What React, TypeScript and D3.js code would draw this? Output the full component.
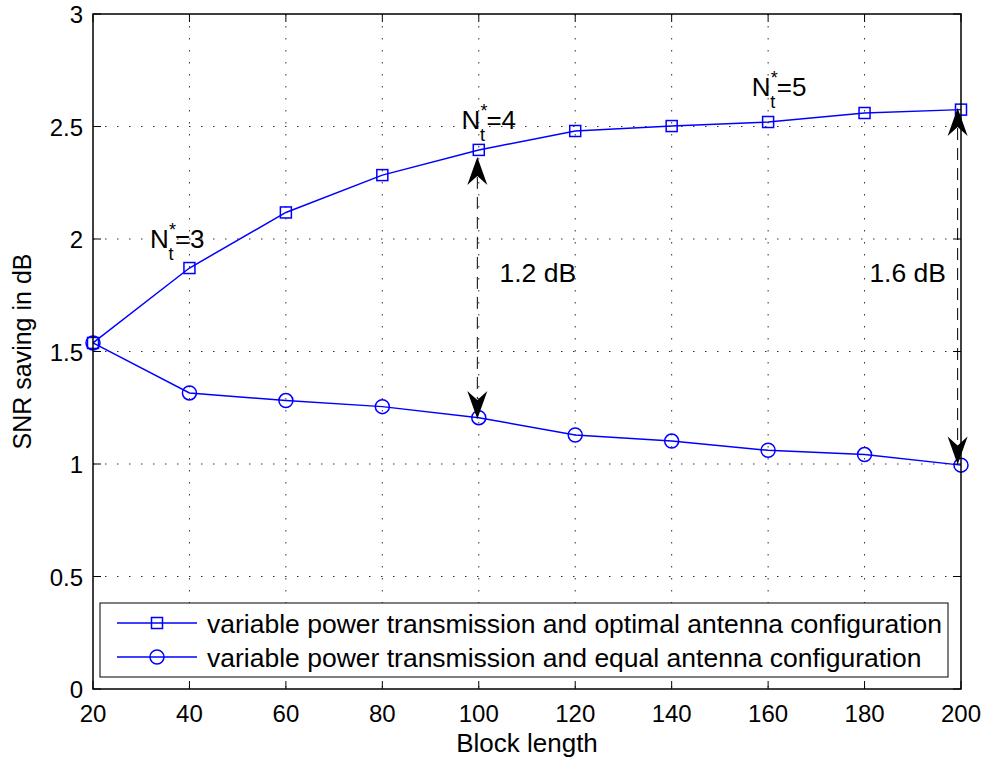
import React from "react";
import * as d3 from "d3";

const blockLengths = [20, 40, 60, 80, 100, 120, 140, 160, 180, 200];
const optimalConfig = [1.538, 1.871, 2.118, 2.284, 2.396, 2.48, 2.502, 2.52, 2.56, 2.575];
const equalConfig = [1.538, 1.316, 1.282, 1.255, 1.206, 1.129, 1.102, 1.061, 1.042, 0.995];
const xTicks = [20, 40, 60, 80, 100, 120, 140, 160, 180, 200];
const yTicks = [0, 0.5, 1, 1.5, 2, 2.5, 3];
const yTickLabels = ["0", "0.5", "1", "1.5", "2", "2.5", "3"];
const legendLabels = [
  "variable power transmission and optimal antenna configuration",
  "variable power transmission and equal antenna configuration",
];
// annotations: N_t^* labels (x, y in data units, value)
const ntLabels = [
  { x: 31.8, y: 1.96, n: "3" },
  { x: 96.4, y: 2.49, n: "4" },
  { x: 156.6, y: 2.635, n: "5" },
];
// double arrows: x, top y, bottom y, label, label position
const arrows = [
  { x: 99.7, top: 2.365, bottom: 1.2, label: "1.2 dB", lx: 104.3, ly: 1.81 },
  { x: 199.3, top: 2.582, bottom: 0.998, label: "1.6 dB", lx: 181.0, ly: 1.81 },
];

const W = 984;
const H = 762;
const M = { left: 93, right: 961, top: 14, bottom: 689 };
const FONT = "'Liberation Sans', Arial, Helvetica, sans-serif";

export default function App() {
  const x = d3.scaleLinear().domain([20, 200]).range([M.left, M.right]);
  const y = d3.scaleLinear().domain([0, 3]).range([M.bottom, M.top]);
  const line = d3
    .line<number>()
    .x((_, i) => x(blockLengths[i]))
    .y((d) => y(d));
  const blue = "#0000ff";
  const tickLen = 8;
  const sq = 11;

  const arrowHead = (tx: number, ty: number, dir: number) => {
    const L = 28;
    const Wd = 10;
    const notch = 9;
    const by = ty + dir * L;
    const ny = ty + dir * (L - notch);
    return `M${tx},${ty} L${tx + Wd},${by} L${tx},${ny} L${tx - Wd},${by} Z`;
  };

  return (
    <svg width={W} height={H} style={{ display: "block", position: "absolute", left: 0, top: 0 }}>
      <rect x={0} y={0} width={W} height={H} fill="#fff" />
      {/* grid */}
      <g stroke="#000" strokeWidth={1} strokeDasharray="1.5 10.5" opacity={0.8}>
        {xTicks.slice(1, -1).map((t) => (
          <line key={"gx" + t} x1={x(t)} x2={x(t)} y1={M.top} y2={M.bottom} />
        ))}
        {yTicks.slice(1, -1).map((t) => (
          <line key={"gy" + t} x1={M.left} x2={M.right} y1={y(t)} y2={y(t)} />
        ))}
      </g>
      {/* ticks */}
      <g stroke="#000" strokeWidth={1}>
        {xTicks.map((t) => (
          <g key={"tx" + t}>
            <line x1={x(t)} x2={x(t)} y1={M.bottom} y2={M.bottom - tickLen} />
            <line x1={x(t)} x2={x(t)} y1={M.top} y2={M.top + tickLen} />
          </g>
        ))}
        {yTicks.map((t) => (
          <g key={"ty" + t}>
            <line x1={M.left} x2={M.left + tickLen} y1={y(t)} y2={y(t)} />
            <line x1={M.right} x2={M.right - tickLen} y1={y(t)} y2={y(t)} />
          </g>
        ))}
      </g>
      {/* tick labels */}
      <g fontFamily={FONT} fontSize={24} fill="#000">
        {xTicks.map((t) => (
          <text key={"lx" + t} x={x(t)} y={M.bottom + 33} textAnchor="middle">
            {t}
          </text>
        ))}
        {yTicks.map((t, i) => (
          <text key={"ly" + t} x={M.left - 10} y={y(t) + 9} textAnchor="end">
            {yTickLabels[i]}
          </text>
        ))}
        <text x={(M.left + M.right) / 2} y={752} textAnchor="middle" fontSize={26}>
          Block length
        </text>
        <text
          transform={`translate(31,${(M.top + M.bottom) / 2}) rotate(-90)`}
          textAnchor="middle"
          fontSize={25}
        >
          SNR saving in dB
        </text>
      </g>
      {/* series */}
      <path d={line(optimalConfig) || ""} fill="none" stroke={blue} strokeWidth={1.5} />
      <path d={line(equalConfig) || ""} fill="none" stroke={blue} strokeWidth={1.5} />
      {optimalConfig.map((v, i) => (
        <rect
          key={"s" + i}
          x={x(blockLengths[i]) - sq / 2}
          y={y(v) - sq / 2}
          width={sq}
          height={sq}
          fill="none"
          stroke={blue}
          strokeWidth={1.5}
        />
      ))}
      {equalConfig.map((v, i) => (
        <circle key={"c" + i} cx={x(blockLengths[i])} cy={y(v)} r={7} fill="none" stroke={blue} strokeWidth={1.5} />
      ))}
      {/* arrows */}
      {arrows.map((a, i) => (
        <g key={"a" + i}>
          <line
            x1={x(a.x)}
            x2={x(a.x)}
            y1={y(a.top) + 20}
            y2={y(a.bottom) - 20}
            stroke="#000"
            strokeWidth={1}
            strokeDasharray="12 8"
          />
          <path d={arrowHead(x(a.x), y(a.top), 1)} fill="#000" />
          <path d={arrowHead(x(a.x), y(a.bottom), -1)} fill="#000" />
          <text x={x(a.lx)} y={y(a.ly)} fontFamily={FONT} fontSize={26.5} fill="#000">
            {a.label}
          </text>
        </g>
      ))}
      {/* N_t^* labels */}
      {ntLabels.map((l, i) => {
        const bx = x(l.x);
        const by = y(l.y);
        return (
          <g key={"n" + i} fontFamily={FONT} fill="#000">
            <text x={bx} y={by} fontSize={26}>N</text>
            <text x={bx + 18.5} y={by + 12} fontSize={18}>t</text>
            <text x={bx + 19} y={by - 12} fontSize={18}>*</text>
            <text x={bx + 25} y={by} fontSize={26}>={l.n}</text>
          </g>
        );
      })}
      {/* legend */}
      <rect x={100} y={603} width={848} height={74} fill="#fff" stroke="#000" strokeWidth={1} />
      {legendLabels.map((lab, i) => {
        const ly = 623 + i * 34;
        return (
          <g key={"lg" + i}>
            <line x1={117} x2={197} y1={ly} y2={ly} stroke={blue} strokeWidth={1.5} />
            {i === 0 ? (
              <rect x={157 - sq / 2} y={ly - sq / 2} width={sq} height={sq} fill="none" stroke={blue} strokeWidth={1.5} />
            ) : (
              <circle cx={157} cy={ly} r={7} fill="none" stroke={blue} strokeWidth={1.5} />
            )}
            <text x={207} y={ly + 9.5} fontFamily={FONT} fontSize={26.5} fill="#000">
              {lab}
            </text>
          </g>
        );
      })}
      {/* axes box */}
      <rect
        x={M.left}
        y={M.top}
        width={M.right - M.left}
        height={M.bottom - M.top}
        fill="none"
        stroke="#000"
        strokeWidth={1.5}
      />
    </svg>
  );
}
